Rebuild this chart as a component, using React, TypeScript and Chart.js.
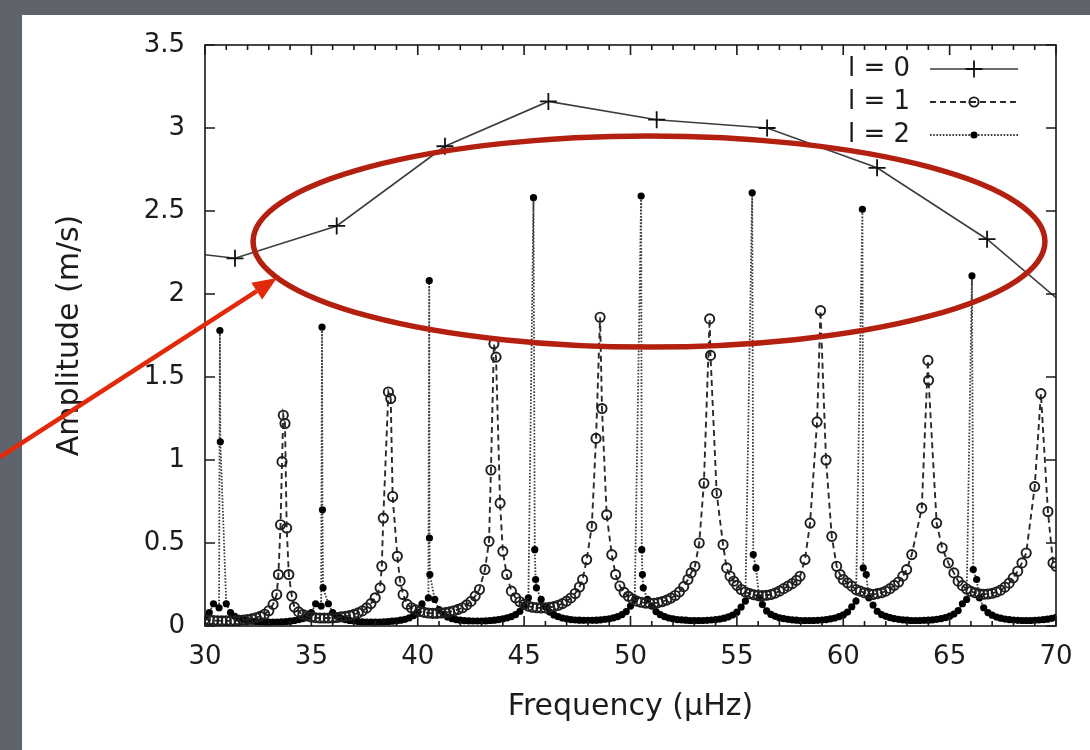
import React, { useEffect, useRef } from 'react';
import { Chart, registerables } from 'chart.js';

Chart.register(...registerables);

const FONT = "'DejaVu Sans', 'Liberation Sans', sans-serif";
const TEXT = '#1c1c1c';

// ---- axis ticks, titles, legend labels ----
const xTicks = [30, 35, 40, 45, 50, 55, 60, 65, 70];
const yTicks = [0, 0.5, 1, 1.5, 2, 2.5, 3, 3.5];
const xTitle = 'Frequency (\u03bcHz)';
const yTitle = 'Amplitude (m/s)';
const legendLabels = ['l = 0', 'l = 1', 'l = 2'];

// ---- l = 0 : mode peak heights ----
const l0Freq = [26.4, 31.41, 36.19, 41.28, 46.14, 51.23, 56.42, 61.59, 66.76, 71.9];
const l0Amp = [2.29, 2.215, 2.41, 2.89, 3.16, 3.05, 3.0, 2.76, 2.33, 1.77];

// ---- l = 1 : profile ----
const l1Freq = [
  30.0, 30.2, 30.4, 30.6, 30.8, 31.0, 31.2, 31.4, 31.6, 31.8,
  32.0, 32.2, 32.4, 32.6, 32.8, 33.0, 33.2, 33.37, 33.45, 33.55,
  33.62, 33.68, 33.76, 33.84, 33.94, 34.08, 34.2, 34.4, 34.6, 34.8,
  35.0, 35.2, 35.4, 35.6, 35.8, 36.0, 36.2, 36.4, 36.6, 36.8,
  37.0, 37.2, 37.4, 37.6, 37.8, 38.0, 38.23, 38.31, 38.38, 38.62,
  38.73, 38.82, 39.04, 39.17, 39.31, 39.5, 39.7, 39.9, 40.1, 40.3,
  40.5, 40.7, 40.9, 41.1, 41.3, 41.5, 41.7, 41.9, 42.1, 42.3,
  42.5, 42.7, 42.9, 43.16, 43.35, 43.44, 43.58, 43.68, 43.87, 44.0,
  44.18, 44.4, 44.6, 44.8, 45.0, 45.2, 45.4, 45.6, 45.8, 46.0,
  46.2, 46.4, 46.6, 46.8, 47.0, 47.2, 47.4, 47.6, 47.75, 47.94,
  48.18, 48.38, 48.57, 48.66, 48.88, 49.12, 49.3, 49.5, 49.7, 49.9,
  50.1, 50.3, 50.5, 50.7, 50.9, 51.1, 51.3, 51.5, 51.7, 51.9,
  52.1, 52.3, 52.5, 52.7, 52.85, 53.03, 53.23, 53.45, 53.72, 53.76,
  54.05, 54.35, 54.52, 54.68, 54.85, 55.0, 55.2, 55.4, 55.6, 55.8,
  56.0, 56.2, 56.4, 56.6, 56.8, 57.0, 57.2, 57.4, 57.6, 57.8,
  57.97, 58.2, 58.44, 58.77, 58.93, 59.19, 59.46, 59.69, 59.85, 60.0,
  60.2, 60.4, 60.6, 60.8, 61.0, 61.2, 61.4, 61.6, 61.8, 62.0,
  62.2, 62.4, 62.6, 62.8, 62.98, 63.22, 63.69, 63.98, 64.01, 64.39,
  64.65, 64.94, 65.2, 65.4, 65.6, 65.8, 66.0, 66.2, 66.4, 66.6,
  66.8, 67.0, 67.2, 67.4, 67.6, 67.8, 67.99, 68.2, 68.4, 68.6,
  69.0, 69.29, 69.62, 69.86, 70.0,
];
const l1Amp = [
  0.040, 0.036, 0.033, 0.032, 0.031, 0.031, 0.031, 0.032, 0.034, 0.036,
  0.039, 0.043, 0.050, 0.058, 0.071, 0.092, 0.13, 0.19, 0.31, 0.61,
  0.99, 1.27, 1.22, 0.59, 0.31, 0.18, 0.114, 0.085, 0.069, 0.060,
  0.054, 0.050, 0.048, 0.048, 0.048, 0.049, 0.051, 0.055, 0.058, 0.063,
  0.070, 0.079, 0.091, 0.109, 0.135, 0.17, 0.23, 0.36, 0.65, 1.41,
  1.37, 0.78, 0.42, 0.27, 0.19, 0.13, 0.11, 0.097, 0.088, 0.082,
  0.078, 0.076, 0.076, 0.078, 0.081, 0.085, 0.092, 0.10, 0.11, 0.127,
  0.148, 0.18, 0.22, 0.34, 0.51, 0.94, 1.70, 1.62, 0.74, 0.45,
  0.31, 0.21, 0.17, 0.146, 0.13, 0.12, 0.113, 0.11, 0.108, 0.109,
  0.112, 0.117, 0.125, 0.135, 0.15, 0.169, 0.196, 0.235, 0.28, 0.40,
  0.60, 1.13, 1.86, 1.31, 0.67, 0.43, 0.31, 0.241, 0.203, 0.179,
  0.162, 0.150, 0.143, 0.138, 0.137, 0.137, 0.141, 0.147, 0.156, 0.168,
  0.184, 0.206, 0.237, 0.28, 0.32, 0.36, 0.50, 0.86, 1.85, 1.63,
  0.80, 0.49, 0.35, 0.30, 0.27, 0.245, 0.22, 0.205, 0.195, 0.188,
  0.184, 0.183, 0.185, 0.19, 0.198, 0.21, 0.225, 0.24, 0.255, 0.275,
  0.30, 0.40, 0.62, 1.23, 1.90, 1.00, 0.54, 0.36, 0.31, 0.28,
  0.26, 0.24, 0.22, 0.21, 0.20, 0.195, 0.19, 0.195, 0.20, 0.21,
  0.225, 0.245, 0.265, 0.30, 0.34, 0.43, 0.71, 1.60, 1.48, 0.62,
  0.47, 0.38, 0.32, 0.27, 0.243, 0.223, 0.209, 0.20, 0.194, 0.191,
  0.193, 0.197, 0.205, 0.216, 0.234, 0.258, 0.29, 0.33, 0.38, 0.44,
  0.84, 1.40, 0.69, 0.38, 0.36,
];

// ---- l = 2 : profile ----
const l2Freq = [
  30.0, 30.2, 30.4, 30.66, 30.70, 30.72, 31.0, 31.2, 31.4, 31.6,
  31.8, 32.0, 32.2, 32.4, 32.6, 32.8, 33.0, 33.2, 33.4, 33.6,
  33.8, 34.0, 34.2, 34.4, 34.6, 34.8, 35.0, 35.2, 35.46, 35.50,
  35.52, 35.55, 35.8, 36.0, 36.2, 36.4, 36.6, 36.8, 37.0, 37.2,
  37.4, 37.6, 37.8, 38.0, 38.2, 38.4, 38.6, 38.8, 39.0, 39.2,
  39.4, 39.6, 39.8, 40.0, 40.2, 40.50, 40.54, 40.55, 40.57, 40.8,
  41.0, 41.2, 41.4, 41.6, 41.8, 42.0, 42.2, 42.4, 42.6, 42.8,
  43.0, 43.2, 43.4, 43.6, 43.8, 44.0, 44.2, 44.4, 44.6, 44.8,
  45.0, 45.2, 45.44, 45.50, 45.54, 45.58, 45.8, 46.0, 46.2, 46.4,
  46.6, 46.8, 47.0, 47.2, 47.4, 47.6, 47.8, 48.0, 48.2, 48.4,
  48.6, 48.8, 49.0, 49.2, 49.4, 49.6, 49.8, 50.0, 50.2, 50.50,
  50.53, 50.56, 50.60, 50.8, 51.0, 51.2, 51.4, 51.6, 51.8, 52.0,
  52.2, 52.4, 52.6, 52.8, 53.0, 53.2, 53.4, 53.6, 53.8, 54.0,
  54.2, 54.4, 54.6, 54.8, 55.0, 55.2, 55.4, 55.72, 55.77, 55.90,
  56.05, 56.2, 56.4, 56.6, 56.8, 57.0, 57.2, 57.4, 57.6, 57.8,
  58.0, 58.2, 58.4, 58.6, 58.8, 59.0, 59.2, 59.4, 59.6, 59.8,
  60.0, 60.2, 60.4, 60.6, 60.90, 60.94, 61.08, 61.2, 61.4, 61.6,
  61.8, 62.0, 62.2, 62.4, 62.6, 62.8, 63.0, 63.2, 63.4, 63.6,
  63.8, 64.0, 64.2, 64.4, 64.6, 64.8, 65.0, 65.2, 65.4, 65.6,
  65.8, 66.05, 66.11, 66.27, 66.4, 66.6, 66.8, 67.0, 67.2, 67.4,
  67.6, 67.8, 68.0, 68.2, 68.4, 68.6, 68.8, 69.0, 69.2, 69.4,
  69.6, 69.8, 70.0,
];
const l2Amp = [
  0.058, 0.081, 0.134, 0.11, 1.78, 1.11, 0.134, 0.081, 0.058, 0.046,
  0.038, 0.033, 0.029, 0.027, 0.025, 0.024, 0.023, 0.024, 0.024, 0.025,
  0.027, 0.029, 0.033, 0.038, 0.045, 0.058, 0.081, 0.134, 0.12, 1.80,
  0.70, 0.23, 0.134, 0.081, 0.058, 0.046, 0.038, 0.033, 0.030, 0.027,
  0.025, 0.024, 0.024, 0.024, 0.024, 0.025, 0.026, 0.029, 0.031, 0.035,
  0.040, 0.049, 0.062, 0.084, 0.133, 0.17, 2.08, 0.53, 0.31, 0.16,
  0.099, 0.069, 0.054, 0.045, 0.039, 0.035, 0.032, 0.031, 0.030, 0.030,
  0.030, 0.031, 0.033, 0.035, 0.039, 0.043, 0.049, 0.057, 0.069, 0.089,
  0.126, 0.17, 2.58, 0.46, 0.28, 0.23, 0.16, 0.116, 0.084, 0.067,
  0.056, 0.048, 0.043, 0.039, 0.036, 0.035, 0.034, 0.034, 0.034, 0.035,
  0.037, 0.040, 0.043, 0.049, 0.057, 0.069, 0.087, 0.12, 0.16, 2.59,
  0.46, 0.31, 0.23, 0.16, 0.12, 0.087, 0.068, 0.057, 0.048, 0.043,
  0.039, 0.037, 0.035, 0.033, 0.033, 0.033, 0.033, 0.034, 0.036, 0.039,
  0.042, 0.047, 0.055, 0.066, 0.083, 0.114, 0.15, 2.61, 0.43, 0.35,
  0.17, 0.129, 0.091, 0.070, 0.058, 0.049, 0.044, 0.040, 0.037, 0.035,
  0.033, 0.033, 0.033, 0.033, 0.034, 0.036, 0.039, 0.043, 0.048, 0.056,
  0.067, 0.084, 0.116, 0.15, 2.51, 0.35, 0.31, 0.17, 0.126, 0.089,
  0.069, 0.058, 0.050, 0.044, 0.040, 0.037, 0.035, 0.033, 0.033, 0.033,
  0.034, 0.035, 0.037, 0.040, 0.044, 0.050, 0.059, 0.072, 0.093, 0.134,
  0.16, 2.11, 0.34, 0.28, 0.17, 0.11, 0.081, 0.065, 0.054, 0.047,
  0.042, 0.039, 0.036, 0.034, 0.033, 0.033, 0.033, 0.034, 0.036, 0.038,
  0.041, 0.046, 0.052,
];

// ---- red annotation (in data units) ----
const ellipseCenter = { freq: 50.87, amp: 2.316 };
const ellipseHalfSpan = { freq: 18.61, amp: 0.636 };
const arrowTail = { freq: 20.36, amp: 1.018 };
const arrowHead = { freq: 33.38, amp: 2.096 };

const pts = (xs: number[], ys: number[]) => xs.map((x, i) => ({ x, y: ys[i] }));

const backdrop = {
  id: 'backdrop',
  beforeDraw(chart: any) {
    const { ctx, width, height } = chart;
    ctx.save();
    ctx.fillStyle = '#5e636c';
    ctx.fillRect(0, 0, width, height);
    ctx.fillStyle = '#ffffff';
    ctx.fillRect(22, 15, width - 22, height - 15);
    ctx.restore();
  },
};

const overlay = {
  id: 'overlay',
  afterDraw(chart: any) {
    const { ctx, chartArea: a, scales } = chart;
    const xs = scales.x;
    const ys = scales.y;
    ctx.save();
    // frame + inward ticks
    ctx.strokeStyle = '#1a1a1a';
    ctx.lineWidth = 1.6;
    ctx.setLineDash([]);
    ctx.strokeRect(a.left, a.top, a.right - a.left, a.bottom - a.top);
    ctx.beginPath();
    for (let v = xTicks[0]; v <= xTicks[xTicks.length - 1]; v += 1) {
      const px = xs.getPixelForValue(v);
      const len = xTicks.includes(v) ? 10 : 5;
      ctx.moveTo(px, a.bottom);
      ctx.lineTo(px, a.bottom - len);
      ctx.moveTo(px, a.top);
      ctx.lineTo(px, a.top + len);
    }
    for (const v of yTicks) {
      const py = ys.getPixelForValue(v);
      ctx.moveTo(a.left, py);
      ctx.lineTo(a.left + 10, py);
      ctx.moveTo(a.right, py);
      ctx.lineTo(a.right - 10, py);
    }
    ctx.stroke();

    // key
    const dss = chart.data.datasets;
    legendLabels.forEach((label: string, i: number) => {
      const yy = a.top + 24 + i * 33;
      ctx.font = `26px ${FONT}`;
      ctx.fillStyle = TEXT;
      ctx.textAlign = 'right';
      ctx.textBaseline = 'middle';
      ctx.fillText(label, a.right - 146, yy);
      const ds = dss[i];
      ctx.strokeStyle = ds.borderColor;
      ctx.lineWidth = ds.borderWidth;
      ctx.setLineDash(ds.borderDash || []);
      ctx.beginPath();
      ctx.moveTo(a.right - 126, yy);
      ctx.lineTo(a.right - 38, yy);
      ctx.stroke();
      ctx.setLineDash([]);
      const cx = a.right - 82;
      ctx.beginPath();
      if (i === 0) {
        const r = ds.pointRadius;
        ctx.strokeStyle = ds.pointBorderColor;
        ctx.lineWidth = ds.pointBorderWidth;
        ctx.moveTo(cx - r, yy);
        ctx.lineTo(cx + r, yy);
        ctx.moveTo(cx, yy - r);
        ctx.lineTo(cx, yy + r);
        ctx.stroke();
      } else if (i === 1) {
        ctx.strokeStyle = ds.pointBorderColor;
        ctx.lineWidth = ds.pointBorderWidth;
        ctx.arc(cx, yy, ds.pointRadius, 0, Math.PI * 2);
        ctx.stroke();
      } else {
        ctx.fillStyle = ds.pointBackgroundColor;
        ctx.arc(cx, yy, ds.pointRadius, 0, Math.PI * 2);
        ctx.fill();
      }
    });

    // red ellipse
    const ecx = xs.getPixelForValue(ellipseCenter.freq);
    const ecy = ys.getPixelForValue(ellipseCenter.amp);
    const erx = xs.getPixelForValue(ellipseCenter.freq + ellipseHalfSpan.freq) - ecx;
    const ery = ecy - ys.getPixelForValue(ellipseCenter.amp + ellipseHalfSpan.amp);
    ctx.strokeStyle = '#b4200f';
    ctx.lineWidth = 5.5;
    ctx.beginPath();
    ctx.ellipse(ecx, ecy, erx, ery, 0, 0, Math.PI * 2);
    ctx.stroke();

    // red arrow
    const x0 = xs.getPixelForValue(arrowTail.freq);
    const y0 = ys.getPixelForValue(arrowTail.amp);
    const x1 = xs.getPixelForValue(arrowHead.freq);
    const y1 = ys.getPixelForValue(arrowHead.amp);
    const ang = Math.atan2(y1 - y0, x1 - x0);
    const hl = 24;
    const hw = 10;
    const bx = x1 - hl * Math.cos(ang);
    const by = y1 - hl * Math.sin(ang);
    ctx.strokeStyle = '#e3290b';
    ctx.fillStyle = '#e3290b';
    ctx.lineWidth = 4.5;
    ctx.beginPath();
    ctx.moveTo(x0, y0);
    ctx.lineTo(bx, by);
    ctx.stroke();
    ctx.beginPath();
    ctx.moveTo(x1, y1);
    ctx.lineTo(bx + hw * Math.sin(ang), by - hw * Math.cos(ang));
    ctx.lineTo(bx - hw * Math.sin(ang), by + hw * Math.cos(ang));
    ctx.closePath();
    ctx.fill();
    ctx.restore();
  },
};

export default function App() {
  const ref = useRef<HTMLCanvasElement>(null);

  useEffect(() => {
    if (!ref.current) return;
    const tickFont = { family: FONT, size: 26 };
    const titleFont = { family: FONT, size: 30 };
    const chart = new Chart(ref.current, {
      type: 'line',
      data: {
        datasets: [
          {
            label: legendLabels[0],
            data: pts(l0Freq, l0Amp),
            borderColor: '#3c3c3c',
            borderWidth: 1.6,
            pointStyle: 'cross',
            pointRadius: 8.5,
            pointBorderWidth: 1.8,
            pointBorderColor: '#111111',
            pointBackgroundColor: '#111111',
            clip: 0,
          },
          {
            label: legendLabels[1],
            data: pts(l1Freq, l1Amp),
            borderColor: '#2a2a2a',
            borderWidth: 1.9,
            borderDash: [6, 4],
            pointStyle: 'circle',
            pointRadius: 4.6,
            pointBorderWidth: 1.9,
            pointBorderColor: '#1e1e1e',
            pointBackgroundColor: 'rgba(255,255,255,0)',
          },
          {
            label: legendLabels[2],
            data: pts(l2Freq, l2Amp),
            borderColor: '#3a3a3a',
            borderWidth: 1.8,
            borderDash: [1.6, 1.6],
            pointStyle: 'circle',
            pointRadius: 3.6,
            pointBorderWidth: 0,
            pointBorderColor: '#000000',
            pointBackgroundColor: '#000000',
          },
        ],
      } as any,
      options: {
        animation: false,
        responsive: false,
        devicePixelRatio: 1,
        events: [],
        layout: { padding: { top: 45, right: 34, bottom: 0, left: 0 } },
        plugins: { legend: { display: false }, tooltip: { enabled: false } },
        elements: { line: { tension: 0 } },
        scales: {
          x: {
            type: 'linear',
            min: 30,
            max: 70,
            afterBuildTicks: (s: any) => {
              s.ticks = xTicks.map((v) => ({ value: v }));
            },
            afterFit: (s: any) => {
              s.height = 124;
            },
            grid: { display: false, drawTicks: false },
            border: { display: false },
            ticks: {
              color: TEXT,
              font: tickFont,
              padding: 16,
              maxRotation: 0,
              autoSkip: false,
              callback: (v: any) => String(v),
            },
            title: { display: true, text: xTitle, color: TEXT, font: titleFont, padding: { top: 0, bottom: 25 } },
          },
          y: {
            type: 'linear',
            min: 0,
            max: 3.5,
            afterBuildTicks: (s: any) => {
              s.ticks = yTicks.map((v) => ({ value: v }));
            },
            afterFit: (s: any) => {
              s.width = 205;
            },
            grid: { display: false, drawTicks: false },
            border: { display: false },
            ticks: {
              color: TEXT,
              font: tickFont,
              padding: 20,
              autoSkip: false,
              callback: (v: any) => String(v),
            },
            title: { display: true, text: yTitle, color: TEXT, font: titleFont, padding: { top: 52, bottom: 0 } },
          },
        },
      } as any,
      plugins: [backdrop, overlay],
    });
    return () => chart.destroy();
  }, []);

  return (
    <div style={{ position: 'absolute', left: 0, top: 0, width: 1090, height: 750 }}>
      <canvas ref={ref} width={1090} height={750} style={{ display: 'block' }} />
    </div>
  );
}
